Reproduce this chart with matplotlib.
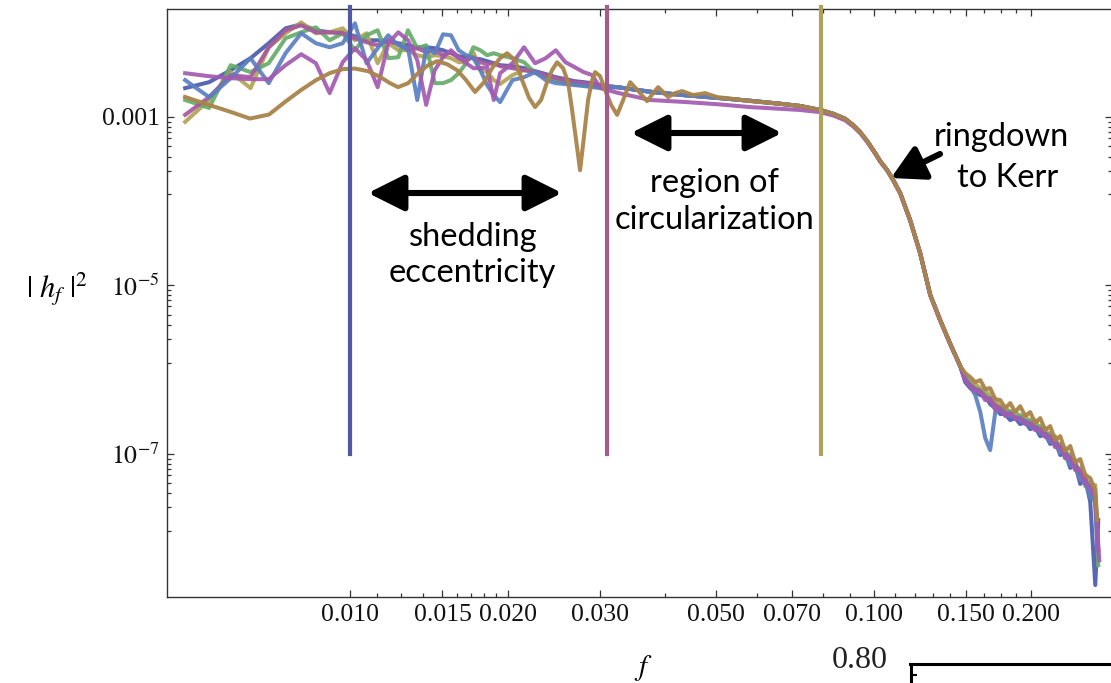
import matplotlib
matplotlib.use('Agg')
import matplotlib.pyplot as plt
from matplotlib.lines import Line2D
from matplotlib.ticker import FixedLocator, FixedFormatter, NullFormatter

plt.rcParams['font.family'] = ['Liberation Serif', 'DejaVu Serif']
plt.rcParams['mathtext.fontset'] = 'stix'

# ---------------- data ----------------
f_left = [0.004833, 0.00537, 0.005907, 0.006444, 0.006981, 0.007518, 0.008055, 0.008592,
          0.009129, 0.009666, 0.010203, 0.01074, 0.011277, 0.011814, 0.012351, 0.012888,
          0.013425, 0.013962, 0.014499, 0.015036, 0.015573, 0.01611, 0.016647, 0.017184,
          0.017721, 0.018258, 0.018795, 0.019332, 0.020406, 0.02148, 0.022554, 0.023628,
          0.024702, 0.025776, 0.02685, 0.027924, 0.028998, 0.030072]

f_smooth = [0.03236, 0.03741, 0.04327, 0.05003, 0.05808, 0.0663, 0.0724, 0.07909, 0.08375,
            0.08831, 0.09146, 0.09431, 0.09727, 0.10076, 0.1030, 0.10622, 0.1091, 0.1125,
            0.1175, 0.1228, 0.1284, 0.1341, 0.1402, 0.1465]
h_smooth = [0.00226, 0.001992, 0.00182, 0.00169, 0.001557, 0.001435, 0.00135, 0.00121,
            0.001091, 0.000949, 0.000797, 0.000658, 0.000515, 0.000371, 0.000298, 0.000233,
            0.000177, 1.241e-4, 5.93e-5, 2.405e-5, 7.63e-6, 3.85e-6, 2.0e-6, 1.094e-6]
h_smooth_purple = [0.00194, 0.00159, 0.00151, 0.00142, 0.00131, 0.00125, 0.00121, 0.00114,
                   0.00104, 0.00091, 0.00077, 0.00064, 0.000505, 0.000365, 0.000294, 0.00023,
                   0.000175, 1.23e-4, 5.9e-5, 2.39e-5, 7.6e-6, 3.83e-6, 1.99e-6, 1.09e-6]

f_tail = [0.1497, 0.1531, 0.1565, 0.1600, 0.1635, 0.1671, 0.1709, 0.1747, 0.1786, 0.1825,
          0.1866, 0.1907, 0.1950, 0.1993, 0.2037, 0.2083, 0.2129, 0.2176, 0.2225, 0.2275,
          0.2325, 0.2377, 0.2430, 0.2484, 0.2539, 0.2596, 0.2654]

# dark blue
blue_left = [0.00220, 0.00259, 0.00360, 0.00499, 0.00751, 0.01130, 0.01261, 0.01071, 0.01014, 0.01014,
             0.00909, 0.00815, 0.00815, 0.00772, 0.00751, 0.00711, 0.00673, 0.00673, 0.00655, 0.00620,
             0.00572, 0.00527, 0.00513, 0.00499, 0.00485, 0.00460, 0.00435, 0.00412,
             0.00401, 0.00380, 0.00350, 0.00323, 0.00297, 0.00281, 0.00266, 0.00259, 0.00252, 0.00239]
blue_tail = [7.06e-7, 5.99e-7, 5.37e-7, 4.95e-7, 4.81e-7, 3.87e-7, 3.47e-7, 2.95e-7, 2.95e-7, 2.50e-7,
             2.64e-7, 2.24e-7, 2.37e-7, 1.95e-7, 2.06e-7, 1.61e-7, 1.70e-7, 1.30e-7, 1.41e-7, 9.6e-8,
             1.04e-7, 6.75e-8, 7.5e-8, 4.35e-8, 5.1e-8, 2.65e-8, 2.74e-9]
blue_end = (0.2689, 1.62e-8)

# light blue
lblue_left = [0.00274, 0.00172, 0.00289, 0.00499, 0.00252, 0.00572, 0.00987, 0.00751, 0.00673, 0.00751,
              0.01296, 0.00435, 0.00655, 0.00934, 0.00711, 0.00655, 0.00159, 0.00655, 0.00572, 0.00960,
              0.00934, 0.00620, 0.00541, 0.00499, 0.00360, 0.00239, 0.00182, 0.00150,
              0.00274, 0.00297, 0.00341, 0.00274, 0.00252, 0.00246, 0.00239, 0.00233, 0.00226, 0.00220]
lblue_tail = [7.46e-7, 6.33e-7, 4.95e-7, 3.11e-7, 1.53e-7, 1.10e-7, 3.11e-7, 3.29e-7, 2.95e-7, 2.79e-7,
              2.71e-7, 2.43e-7, 2.43e-7, 2.06e-7, 2.06e-7, 1.75e-7, 1.66e-7, 1.37e-7, 1.30e-7, 1.04e-7,
              9.6e-8, 7.3e-8, 6.9e-8, 4.85e-8, 4.6e-8, 3.0e-8, 2.8e-8]
lblue_end = (0.2677, 8.2e-9)

# green
green_left = [0.00159, 0.00128, 0.00412, 0.00341, 0.00435, 0.00861, 0.01014, 0.01162, 0.00815, 0.00987,
              0.00620, 0.00934, 0.01071, 0.00499, 0.00513, 0.01071, 0.00655, 0.00711, 0.00252, 0.00252,
              0.00274, 0.00331, 0.00435, 0.00673, 0.00620, 0.00541, 0.00572, 0.00541,
              0.00499, 0.00447, 0.00331, 0.00297, 0.00274, 0.00259, 0.00246, 0.00239, 0.00233, 0.00226]
green_tail = [7.88e-7, 6.69e-7, 5.99e-7, 5.67e-7, 4.95e-7, 4.43e-7, 3.66e-7, 3.56e-7, 3.11e-7, 3.20e-7,
              2.64e-7, 2.87e-7, 2.37e-7, 2.50e-7, 2.01e-7, 2.12e-7, 1.61e-7, 1.75e-7, 1.23e-7, 1.30e-7,
              8.8e-8, 9.85e-8, 6.4e-8, 6.75e-8, 4.1e-8, 4.6e-8, 2.44e-8]
green_end = (0.2689, 4.7e-9)

# olive
olive_left = [0.000874, 0.00159, 0.00341, 0.00220, 0.00673, 0.00987, 0.01331, 0.00987, 0.01014, 0.01130,
              0.00815, 0.00987, 0.00435, 0.00751, 0.00620, 0.00620, 0.00541, 0.00513, 0.00541, 0.00527,
              0.00499, 0.00447, 0.00447, 0.00588, 0.00360, 0.00341, 0.00274, 0.00246,
              0.00314, 0.00360, 0.00341, 0.00305, 0.00281, 0.00259, 0.00246, 0.00239, 0.00233, 0.00226]
olive_tail = [8.33e-7, 7.26e-7, 6.69e-7, 5.99e-7, 5.67e-7, 4.81e-7, 4.32e-7, 3.56e-7, 3.56e-7, 3.03e-7,
              3.20e-7, 2.64e-7, 2.87e-7, 2.24e-7, 2.50e-7, 1.90e-7, 2.01e-7, 1.45e-7, 1.61e-7, 1.04e-7,
              1.16e-7, 7.7e-8, 8.4e-8, 5.1e-8, 5.7e-8, 3.21e-8, 4.23e-8]
olive_end = (0.2677, 1.02e-8)

# purple
purple_left = [0.00331, 0.00305, 0.00289, 0.00281, 0.00281, 0.00412, 0.00556, 0.00435, 0.00192, 0.00447,
               0.00655, 0.00472, 0.00226, 0.00751, 0.01014, 0.00815, 0.00472, 0.00139, 0.00360, 0.00513,
               0.00620, 0.00513, 0.00435, 0.00380, 0.00380, 0.00390, 0.00159, 0.00331,
               0.00435, 0.00673, 0.00435, 0.00499, 0.00620, 0.00447, 0.00390, 0.00341, 0.00314, 0.00220]
purple_tail = [7.46e-7, 6.33e-7, 5.52e-7, 5.37e-7, 4.32e-7, 4.56e-7, 3.29e-7, 3.47e-7, 2.79e-7, 3.03e-7,
               2.57e-7, 2.64e-7, 2.24e-7, 2.30e-7, 1.90e-7, 1.95e-7, 1.57e-7, 1.61e-7, 1.19e-7, 1.23e-7,
               8.8e-8, 9.1e-8, 6.4e-8, 6.4e-8, 4.35e-8, 4.1e-8, 3.0e-8]
purple_end = (0.2701, 5.4e-9)

# magenta
magenta_left = [0.00106, 0.00172, 0.00314, 0.00297, 0.00673, 0.01071, 0.01228, 0.01014, 0.01014, 0.00987,
                0.00861, 0.00772, 0.00711, 0.00815, 0.00731, 0.00620, 0.00655, 0.00588, 0.00620, 0.00541,
                0.00588, 0.00499, 0.00472, 0.00513, 0.00447, 0.00424, 0.00435, 0.00401,
                0.00380, 0.00360, 0.00341, 0.00314, 0.00289, 0.00274, 0.00259, 0.00252, 0.00246, 0.00233]
magenta_tail = [7.67e-7, 6.50e-7, 5.83e-7, 5.52e-7, 4.68e-7, 4.20e-7, 3.77e-7, 3.37e-7, 3.03e-7, 2.95e-7,
                2.71e-7, 2.57e-7, 2.43e-7, 2.24e-7, 2.12e-7, 1.85e-7, 1.75e-7, 1.49e-7, 1.41e-7, 1.13e-7,
                1.04e-7, 8.15e-8, 7.5e-8, 5.6e-8, 5.0e-8, 3.5e-8, 2.95e-8]
magenta_end = (0.2689, 7.1e-9)

# brown (smooth oscillating curve, own frequency samples)
f_brown = [0.00483, 0.005368, 0.00591, 0.006428, 0.006991, 0.007499, 0.008051, 0.008597, 0.009144,
           0.009683, 0.010209, 0.01081, 0.011397, 0.01191, 0.012337, 0.012892, 0.013471, 0.014078,
           0.014647, 0.015306, 0.015996, 0.016643, 0.017315, 0.018015, 0.01866, 0.019329, 0.019934,
           0.020648, 0.021295, 0.021963, 0.02255, 0.02315, 0.02377, 0.0243, 0.02484, 0.025504,
           0.026074, 0.026535, 0.027008, 0.027487, 0.027978, 0.028473, 0.028982, 0.029366, 0.030022,
           0.03069, 0.031512, 0.032359, 0.03322, 0.034261, 0.035645, 0.036923, 0.037914, 0.038753,
           0.039619, 0.040503, 0.041767, 0.043076, 0.045208, 0.047663, 0.050246, 0.054387, 0.058089]
h_brown = [0.001728, 0.00139, 0.001146, 0.000957, 0.001068, 0.001508, 0.00209, 0.00274, 0.00333,
           0.00370, 0.003757, 0.00350, 0.002987, 0.00252, 0.00226, 0.00252, 0.00331, 0.00412,
           0.00460, 0.00424, 0.00360, 0.00274, 0.00198, 0.00259, 0.00380, 0.00499, 0.00572,
           0.00472, 0.00274, 0.00168, 0.00131, 0.00159, 0.00259, 0.00360, 0.00447, 0.00380,
           0.00259, 0.00121, 0.000529, 0.000233, 0.000606, 0.00159, 0.00274, 0.00341, 0.00305,
           0.00209, 0.00139, 0.00106, 0.00159, 0.00259, 0.00198, 0.00154, 0.00192, 0.00226,
           0.00198, 0.00172, 0.00192, 0.00203, 0.00182, 0.00192, 0.00172, 0.00163, 0.00154]
brown_tail = [9.04e-7, 8.10e-7, 7.06e-7, 7.46e-7, 5.83e-7, 5.99e-7, 4.43e-7, 4.32e-7, 3.47e-7, 3.98e-7,
              3.11e-7, 3.66e-7, 2.79e-7, 3.11e-7, 2.30e-7, 2.64e-7, 1.90e-7, 2.12e-7, 1.45e-7, 1.61e-7,
              1.07e-7, 1.23e-7, 7.9e-8, 8.6e-8, 5.6e-8, 5.1e-8, 3.69e-8]
brown_end = (0.2677, 1.62e-8)

vline_f = [0.010, 0.031, 0.0795]
vline_lo, vline_hi = 1e-7, 0.0200
vline_colors = ['#5058a8', '#a25a8f', '#aca25a']

xticks_major = [0.010, 0.015, 0.020, 0.030, 0.050, 0.070, 0.100, 0.150, 0.200]
xtick_labels = ['0.010', '0.015', '0.020', '0.030', '0.050', '0.070', '0.100', '0.150', '0.200']
xticks_minor = [0.01125, 0.0125, 0.01375, 0.016, 0.017, 0.018, 0.019, 0.04, 0.06, 0.08, 0.09,
                0.11, 0.12, 0.13, 0.14, 0.1625, 0.175, 0.1875]
yticks_major = [1e-3, 1e-5, 1e-7]
ytick_labels = ['0.001', r'$10^{-5}$', r'$10^{-7}$']
ytick_minor_offsets = [0.06, 0.12, 0.18, 0.25, 0.35, 0.47, 0.64, 0.92]

# ---------------- figure ----------------
W, H = 1111, 683
fig = plt.figure(figsize=(W / 100, H / 100), dpi=100)
ax = fig.add_axes([166.7 / W, 1 - 597 / H, (1112.5 - 166.7) / W, (597 - 9.3) / H])
ax.set_xscale('log')
ax.set_yscale('log')
ax.set_xlim(0.004456, 0.2863)
ax.set_ylim(1.975e-9, 0.01902)

lw = 2.9
def draw(left, smooth, tail, end, color):
    f = f_left + f_smooth + f_tail + [end[0]]
    h = left + smooth + tail + [end[1]]
    ax.plot(f, h, color=color, lw=lw, alpha=0.92, solid_joinstyle='round', zorder=3)

draw(blue_left, h_smooth, blue_tail, blue_end, '#4b5aae')
draw(olive_left, h_smooth, olive_tail, olive_end, '#b2a453')
draw(green_left, h_smooth, green_tail, green_end, '#66ac69')
draw(magenta_left, h_smooth, magenta_tail, magenta_end, '#a6589e')
draw(lblue_left, h_smooth, lblue_tail, lblue_end, '#5a7fc2')
draw(purple_left, h_smooth_purple, purple_tail, purple_end, '#a35ab0')
ax.plot(f_brown + f_smooth[5:] + f_tail + [brown_end[0]],
        h_brown + h_smooth[5:] + brown_tail + [brown_end[1]],
        color='#a9844a', lw=lw, alpha=0.95, solid_joinstyle='round', zorder=3)

for fv, c in zip(vline_f, vline_colors):
    ax.plot([fv, fv], [vline_lo, vline_hi], color=c, lw=3.0, zorder=4, clip_on=False)

# ticks
ax.xaxis.set_major_locator(FixedLocator(xticks_major))
ax.xaxis.set_major_formatter(FixedFormatter(xtick_labels))
ax.xaxis.set_minor_locator(FixedLocator(xticks_minor))
ax.xaxis.set_minor_formatter(NullFormatter())
ax.yaxis.set_major_locator(FixedLocator(yticks_major))
ax.yaxis.set_major_formatter(FixedFormatter(ytick_labels))
ymin_ticks = [v * 10 ** (-d) for v in yticks_major for d in ytick_minor_offsets]
ax.yaxis.set_minor_locator(FixedLocator(ymin_ticks))
ax.yaxis.set_minor_formatter(NullFormatter())
ax.tick_params(which='both', direction='in', top=True, right=True, color='#333333',
               width=0.9, labelsize=18.5, labelcolor='#111111')
ax.tick_params(which='major', length=5.2, pad=5)
ax.tick_params(which='minor', length=3.0)
for s in ax.spines.values():
    s.set_color('#333333')
    s.set_linewidth(1.0)

# axis labels
fig.text(57 / W, 1 - 289 / H, r'$|\ h_f\ |^2$', fontsize=22, ha='center', va='center')
fig.text(643 / W, 1 - 668 / H, r'$f$', fontsize=21, ha='center', va='center')

# annotations
sans = ['Lato', 'DejaVu Sans']
def px(x, y):
    return (x / W, 1 - y / H)

arrow_kw = dict(arrowstyle='<|-|>,head_length=1.1,head_width=0.55', lw=4.4, color='k',
                mutation_scale=20, shrinkA=0, shrinkB=0)
ax.annotate('', xy=px(562, 193), xytext=px(368, 193), xycoords='figure fraction',
            textcoords='figure fraction', arrowprops=arrow_kw)
ax.annotate('', xy=px(782, 133), xytext=px(631, 133), xycoords='figure fraction',
            textcoords='figure fraction', arrowprops=arrow_kw)
ax.annotate('', xy=px(891, 178), xytext=px(940, 154), xycoords='figure fraction',
            textcoords='figure fraction',
            arrowprops=dict(arrowstyle='-|>,head_length=1.0,head_width=0.55', lw=4.4, color='k',
                            mutation_scale=20, shrinkA=0, shrinkB=0))

fs = 23.5
fig.text(*px(473, 237), 'shedding', family=sans, fontsize=fs, ha='center', va='center')
fig.text(*px(472, 273), 'eccentricity', family=sans, fontsize=fs, ha='center', va='center')
fig.text(*px(715, 183), 'region of', family=sans, fontsize=fs, ha='center', va='center')
fig.text(*px(715, 220), 'circularization', family=sans, fontsize=fs, ha='center', va='center')
fig.text(*px(1001, 137), 'ringdown', family=sans, fontsize=fs, ha='center', va='center')
fig.text(*px(1008, 178), 'to Kerr', family=sans, fontsize=fs, ha='center', va='center')

# fragment of a neighbouring panel at the bottom edge
fig.text(*px(860, 660), '0.80', fontsize=23, ha='center', va='center', color='#222222')
fig.add_artist(Line2D([910 / W, 1.0], [1 - 664 / H, 1 - 664 / H], color='k', lw=2.2))
fig.add_artist(Line2D([911 / W, 911 / W], [1 - 664 / H, 0.0], color='k', lw=2.2))
fig.add_artist(Line2D([911 / W, 916 / W], [1 - 675 / H, 1 - 675 / H], color='k', lw=1.5))

fig.savefig('out.png', dpi=100)
